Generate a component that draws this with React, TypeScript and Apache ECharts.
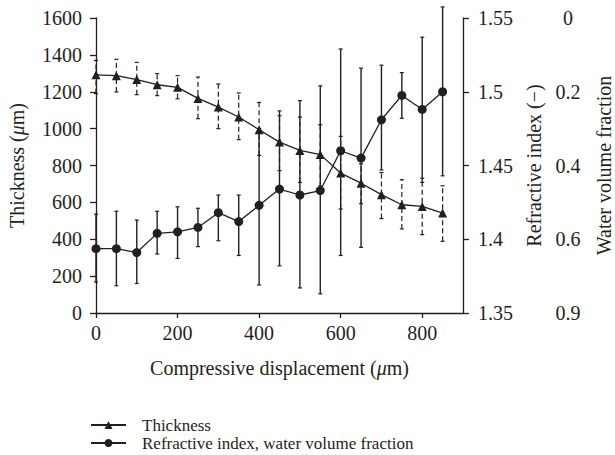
import React, { useEffect, useRef } from "react";
import * as echarts from "echarts";

// Compressive displacement (µm)
const DISPLACEMENT = [0, 50, 100, 150, 200, 250, 300, 350, 400, 450, 500, 550, 600, 650, 700, 750, 800, 850];
// Thickness (µm) with error-bar ends
const THICKNESS = [1292, 1287, 1266, 1238, 1224, 1164, 1117, 1063, 994, 927, 882, 859, 759, 704, 642, 587, 578, 542];
const THICKNESS_LOW = [1190, 1199, 1184, 1179, 1162, 1054, 1000, 940, 855, 772, 708, 689, 564, 593, 512, 456, 425, 389];
const THICKNESS_HIGH = [1370, 1376, 1359, 1298, 1287, 1280, 1242, 1193, 1142, 1070, 1063, 1021, 958, 809, 762, 723, 731, 690];
// Refractive index (−) with error-bar ends
const REFRACTIVE_INDEX = [1.3936, 1.3936, 1.391, 1.404, 1.405, 1.408, 1.418, 1.412, 1.423, 1.434, 1.43, 1.433, 1.46, 1.455, 1.481, 1.4975, 1.488, 1.5];
const RI_LOW = [1.371, 1.3685, 1.37, 1.39, 1.387, 1.395, 1.399, 1.389, 1.369, 1.382, 1.367, 1.363, 1.389, 1.3945, 1.447, 1.482, 1.4385, 1.443];
const RI_HIGH = [1.417, 1.419, 1.413, 1.419, 1.422, 1.421, 1.43, 1.43, 1.475, 1.487, 1.494, 1.504, 1.529, 1.516, 1.518, 1.513, 1.537, 1.5575];
// Axis tick labels
const X_TICKS = [0, 200, 400, 600, 800];
const RI_TICKS = [1.35, 1.4, 1.45, 1.5, 1.55];
const WATER_LABELS = ["0.9", "0.6", "0.4", "0.2", "0"];

const SERIES_NAMES = ["Thickness", "Refractive index, water volume fraction"];

const FONT = "Liberation Serif";
const INK = "#231f20";
const FS = 20;

function errorBarRenderer(dashed: boolean) {
  return (params: any, api: any) => {
    const x = api.value(0);
    const lo = api.coord([x, api.value(1)]);
    const hi = api.coord([x, api.value(2)]);
    const cap = 2;
    const barStyle: any = { stroke: INK, lineWidth: dashed ? 1.2 : 1.4, fill: null };
    if (dashed) barStyle.lineDash = [5, 3];
    const capStyle = { stroke: INK, lineWidth: 1.2, fill: null };
    return {
      type: "group",
      children: [
        { type: "line", shape: { x1: lo[0], y1: lo[1], x2: hi[0], y2: hi[1] }, style: barStyle },
        { type: "line", shape: { x1: lo[0] - cap, y1: lo[1], x2: lo[0] + cap, y2: lo[1] }, style: capStyle },
        { type: "line", shape: { x1: hi[0] - cap, y1: hi[1], x2: hi[0] + cap, y2: hi[1] }, style: capStyle },
      ],
    };
  };
}

export default function App() {
  const ref = useRef<HTMLDivElement>(null);

  useEffect(() => {
    if (!ref.current) return;
    const chart = echarts.init(ref.current, null, { renderer: "svg" });

    const textStyle = { fontFamily: FONT, fontSize: FS, color: INK };
    const nameStyle = {
      fontFamily: FONT,
      fontSize: FS,
      color: INK,
      rich: { i: { fontFamily: FONT, fontSize: FS, color: INK, fontStyle: "italic" } },
    };
    const axisLine = { show: true, lineStyle: { color: INK, width: 1.3 } };
    const axisTick = { show: true, inside: false, length: 6, lineStyle: { color: INK, width: 1.3 } };
    const legendBase = {
      left: 90,
      padding: 0,
      orient: "vertical",
      itemWidth: 35,
      itemHeight: 10,
      itemGap: 0,
      textStyle: { fontFamily: FONT, fontSize: 17, color: INK, lineHeight: 18, padding: [0, 0, 0, 11] },
    };

    const option: any = {
      animation: false,
      backgroundColor: "#ffffff",
      textStyle: { fontFamily: FONT },
      grid: { left: 96, right: 152, top: 18, bottom: 142, containLabel: false, outerBoundsMode: "none" },
      legend: [
        { ...legendBase, top: 416, data: [SERIES_NAMES[0]] },
        { ...legendBase, top: 434, data: [SERIES_NAMES[1]] },
      ],
      xAxis: {
        type: "value",
        min: 0,
        max: 900,
        interval: 100,
        name: "Compressive displacement ({i|μ}m)",
        nameLocation: "middle",
        nameGap: 45,
        nameTextStyle: nameStyle,
        axisLine,
        axisTick: { ...axisTick, length: 5, customValues: X_TICKS },
        axisLabel: { ...textStyle, margin: 10, customValues: X_TICKS, formatter: (v: number) => String(v) },
        splitLine: { show: false },
      },
      yAxis: [
        {
          type: "value",
          position: "left",
          min: 0,
          max: 1600,
          interval: 200,
          name: "Thickness ({i|μ}m)",
          nameLocation: "middle",
          nameRotate: 90,
          nameGap: 69,
          nameTextStyle: nameStyle,
          axisLine,
          axisTick,
          axisLabel: { ...textStyle, margin: 14, formatter: (v: number) => String(v) },
          splitLine: { show: false },
        },
        {
          type: "value",
          position: "right",
          min: 1.35,
          max: 1.55,
          interval: 0.05,
          name: "Refractive index (−)",
          nameLocation: "middle",
          nameRotate: 90,
          nameGap: 59,
          nameTextStyle: nameStyle,
          axisLine,
          axisTick,
          axisLabel: { ...textStyle, margin: 15, customValues: RI_TICKS },
          splitLine: { show: false },
        },
        {
          type: "value",
          position: "right",
          offset: 79,
          min: 1.35,
          max: 1.55,
          interval: 0.05,
          name: "Water volume fraction",
          nameLocation: "middle",
          nameRotate: 90,
          nameGap: 52,
          nameTextStyle: nameStyle,
          axisLine: { show: false },
          axisTick: { show: false },
          axisLabel: {
            ...textStyle,
            margin: 26,
            align: "center",
            customValues: RI_TICKS,
            formatter: (v: number) => {
              const idx = RI_TICKS.findIndex((t) => Math.abs(t - v) < 1e-6);
              return idx >= 0 ? WATER_LABELS[idx] : "";
            },
          },
          splitLine: { show: false },
        },
      ],
      series: [
        {
          type: "custom",
          name: "thickness-error",
          xAxisIndex: 0,
          yAxisIndex: 0,
          silent: true,
          z: 1,
          renderItem: errorBarRenderer(true),
          encode: { x: 0, y: [1, 2] },
          data: DISPLACEMENT.map((x, i) => [x, THICKNESS_LOW[i], THICKNESS_HIGH[i]]),
        },
        {
          type: "custom",
          name: "ri-error",
          xAxisIndex: 0,
          yAxisIndex: 1,
          silent: true,
          z: 2,
          renderItem: errorBarRenderer(false),
          encode: { x: 0, y: [1, 2] },
          data: DISPLACEMENT.map((x, i) => [x, RI_LOW[i], RI_HIGH[i]]),
        },
        {
          type: "line",
          name: SERIES_NAMES[0],
          xAxisIndex: 0,
          yAxisIndex: 0,
          z: 3,
          symbol: "triangle",
          symbolSize: 9,
          showAllSymbol: true,
          lineStyle: { color: INK, width: 1.3 },
          itemStyle: { color: INK },
          data: DISPLACEMENT.map((x, i) => [x, THICKNESS[i]]),
        },
        {
          type: "line",
          name: SERIES_NAMES[1],
          xAxisIndex: 0,
          yAxisIndex: 1,
          z: 3,
          symbol: "circle",
          symbolSize: 9,
          showAllSymbol: true,
          lineStyle: { color: INK, width: 1.3 },
          itemStyle: { color: INK },
          data: DISPLACEMENT.map((x, i) => [x, REFRACTIVE_INDEX[i]]),
        },
      ],
    };

    chart.setOption(option);
    return () => chart.dispose();
  }, []);

  return (
    <div
      ref={ref}
      style={{ position: "absolute", left: 0, top: 0, width: 615, height: 455, background: "#fff" }}
    />
  );
}
